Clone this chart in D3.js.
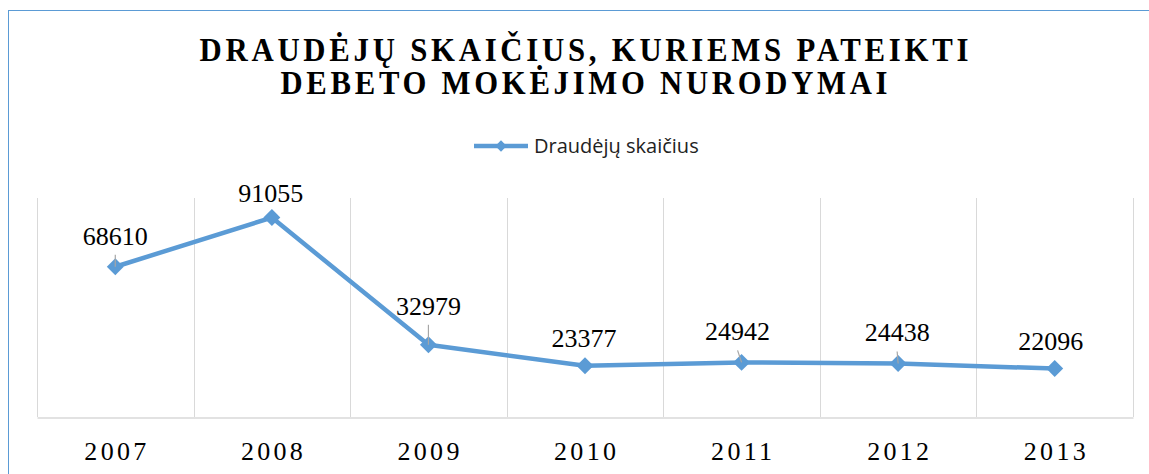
<!DOCTYPE html>
<html>
  <head>
    <meta charset="utf-8">
    <title>Draudėjų skaičius</title>
    <style>
      body { margin: 0; background: #fff; }
      svg { display: block; }
      .title { font-family: "Liberation Serif", "Times New Roman", serif; font-weight: bold; font-size: 33px; letter-spacing: 4px; fill: #000; }
      .tick-label { font-family: "Liberation Serif", "Times New Roman", serif; font-size: 26px; letter-spacing: 3.3px; fill: #000; }
      .data-label { font-family: "Liberation Serif", "Times New Roman", serif; font-size: 26px; fill: #000; }
      .legend-text { font-family: "Open Sans", sans-serif; font-size: 20px; fill: #222; }
    </style>
  </head>
  <body>
    <svg width="1149" height="474"></svg>

    <script src="https://d3js.org/d3.v7.min.js"></script>
    <script>
      // data
      const years = ['2007', '2008', '2009', '2010', '2011', '2012', '2013'];
      const counts = [68610, 91055, 32979, 23377, 24942, 24438, 22096];
      const seriesName = 'Draudėjų skaičius';
      const titleLines = ['DRAUDĖJŲ SKAIČIUS, KURIEMS PATEIKTI', 'DEBETO MOKĖJIMO NURODYMAI'];

      // hand-moved data labels (dx, dy from default spot) and which have leader lines
      const labelNudge = [[0, -2], [-1, 4], [0, -10], [-1, 1], [-4, -2], [-1, -2], [-4, 1]];
      const hasLeader = [true, false, true, false, true, true, false];

      const blue = '#5B9BD5';
      const grid = '#D9D9D9';

      const svg = d3.select('svg');
      const plot = { left: 37, right: 1133, top: 198, bottom: 417 };

      // outer chart border (runs off the right and bottom of the picture)
      svg.append('rect')
        .attr('x', 8.5).attr('y', 10.5)
        .attr('width', 1200).attr('height', 500)
        .attr('fill', '#fff')
        .attr('stroke', blue).attr('stroke-width', 1);

      const x = d3.scaleBand()
        .domain(years)
        .range([plot.left, plot.right])
        .padding(0);

      const y = d3.scaleLinear()
        .domain([0, 100000])
        .range([plot.bottom, plot.top]);

      const cx = d => x(d) + x.bandwidth() / 2;

      // vertical gridlines at category boundaries
      const bounds = years.map(d => x(d)).concat([plot.right]);
      svg.append('g')
        .selectAll('line')
        .data(bounds)
        .join('line')
        .attr('x1', d => Math.round(d) + 0.5).attr('x2', d => Math.round(d) + 0.5)
        .attr('y1', plot.top).attr('y2', plot.bottom)
        .attr('stroke', grid).attr('stroke-width', 1);

      // x axis
      const xAxis = svg.append('g')
        .attr('transform', `translate(0,${plot.bottom + 0.5})`)
        .call(d3.axisBottom(x).tickSize(0).tickPadding(30));
      xAxis.select('.domain').attr('stroke', grid).attr('stroke-width', 1.5);
      xAxis.selectAll('text')
        .attr('class', 'tick-label')
        .attr('font-family', null).attr('font-size', null)
        .attr('dx', 1.65)
        .attr('dy', 12);

      // title
      const titleWidths = [773, 611];
      const titleBase = [61, 94];
      titleLines.forEach((t, i) => {
        const txt = svg.append('text')
          .attr('class', 'title')
          .attr('text-anchor', 'middle')
          .attr('dx', 2)
          .text(t);
        const w = txt.node().getBBox().width;
        txt.attr('transform', `translate(584,${titleBase[i]}) scale(${titleWidths[i] / w},1)`);
      });

      // legend
      const lg = svg.append('g');
      lg.append('line')
        .attr('x1', 474).attr('x2', 528)
        .attr('y1', 146).attr('y2', 146)
        .attr('stroke', blue).attr('stroke-width', 4.5);
      lg.append('path')
        .attr('d', d3.symbol(d3.symbolSquare, 64)())
        .attr('transform', 'translate(501,146) rotate(45)')
        .attr('fill', blue);
      lg.append('text')
        .attr('class', 'legend-text')
        .attr('x', 534).attr('y', 153)
        .text(seriesName);

      // series line
      const pts = years.map((d, i) => ({ year: d, value: counts[i], i }));
      svg.append('path')
        .datum(pts)
        .attr('fill', 'none')
        .attr('stroke', blue)
        .attr('stroke-width', 4.5)
        .attr('stroke-linejoin', 'round')
        .attr('d', d3.line().x(d => cx(d.year)).y(d => y(d.value)));

      // markers
      svg.append('g')
        .selectAll('path')
        .data(pts)
        .join('path')
        .attr('d', d3.symbol(d3.symbolSquare, 144)())
        .attr('transform', d => `translate(${cx(d.year)},${y(d.value)}) rotate(45)`)
        .attr('fill', blue);

      // data labels
      const lx = d => cx(d.year) + labelNudge[d.i][0];
      const ly = d => y(d.value) - 20 + labelNudge[d.i][1];

      svg.append('g')
        .selectAll('line')
        .data(pts.filter(d => hasLeader[d.i]))
        .join('line')
        .attr('x1', d => lx(d)).attr('y1', d => ly(d) + 10)
        .attr('x2', d => cx(d.year)).attr('y2', d => y(d.value))
        .attr('stroke', '#A6A6A6').attr('stroke-width', 1.2);

      svg.append('g')
        .selectAll('text')
        .data(pts)
        .join('text')
        .attr('class', 'data-label')
        .attr('text-anchor', 'middle')
        .attr('x', lx)
        .attr('y', ly)
        .text(d => d.value);
    </script>
  </body>
</html>
